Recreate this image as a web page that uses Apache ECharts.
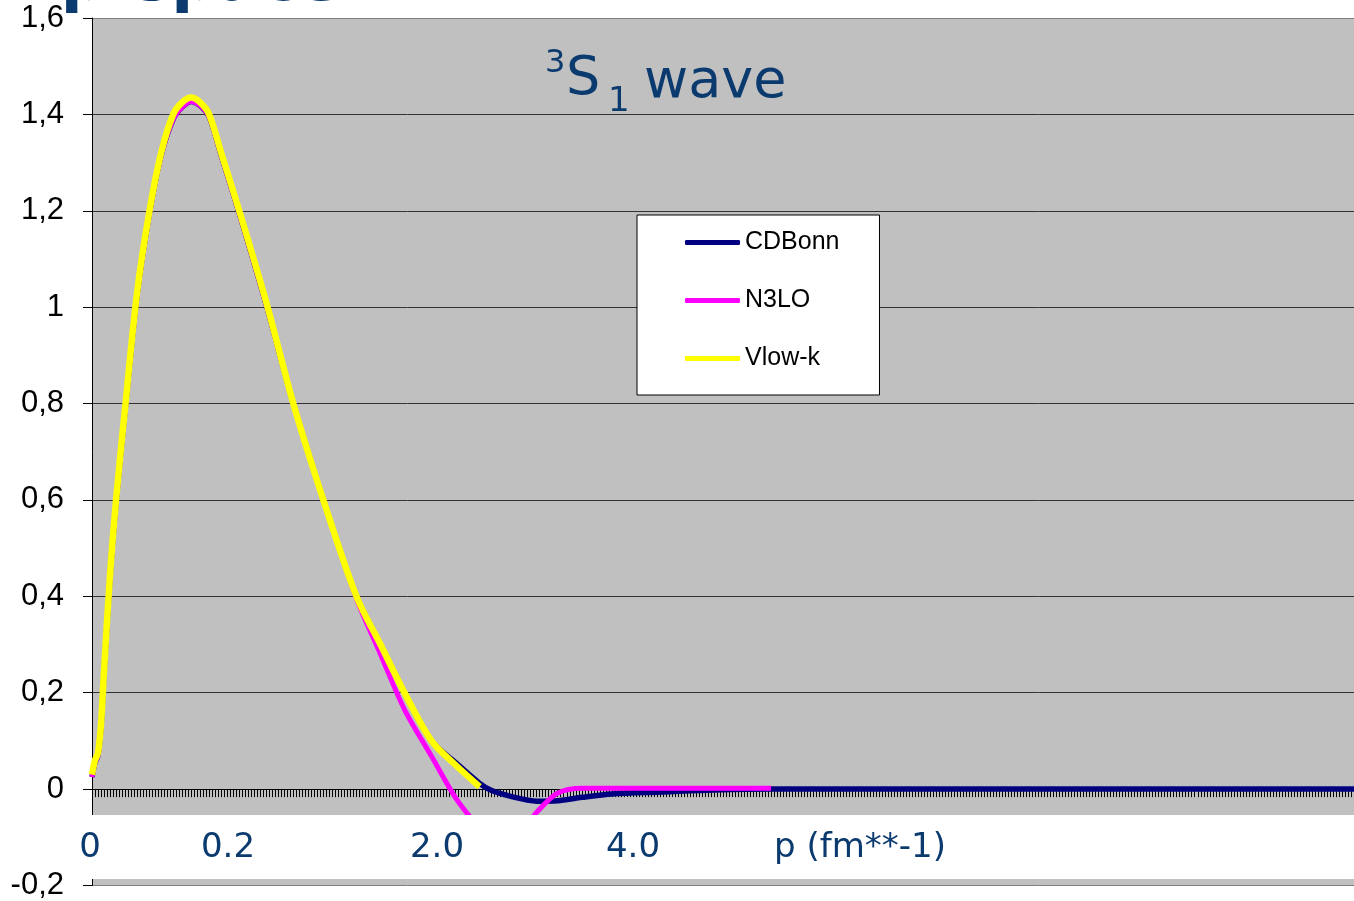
<!DOCTYPE html>
<html>

<head>
    <meta charset="utf-8">
    <title>3S1 wave</title>
    <script src="https://cdn.jsdelivr.net/npm/echarts@6/dist/echarts.min.js"></script>
    <style>
        html, body { margin: 0; padding: 0; background: #ffffff; }
        #main { width: 1354px; height: 901px; }
    </style>
</head>

<body>
    <div id="main"></div>
    <script>
        // sample index along the p axis (the Excel category axis)
        var pIndex = [0, 1, 2, 3, 4, 6, 8, 11, 15, 19, 23, 27, 30, 33, 36, 39, 43, 49, 58, 67, 77, 88, 96, 104,
            113, 121, 129, 133, 140, 148, 155, 163, 173, 190, 207, 226, 300, 420];

        var cdBonn = [0.025, 0.055, 0.07, 0.13, 0.24, 0.44, 0.595, 0.785, 1.025, 1.19, 1.315, 1.39, 1.415, 1.427, 1.418, 1.395,
            1.315, 1.195, 1.005, 0.80, 0.60, 0.40, 0.30, 0.20, 0.10, 0.055, 0.012, -0.003, -0.016, -0.025, -0.024,
            -0.017, -0.010, -0.006, -0.002, 0, 0, 0];

        var n3lo = [0.025, 0.055, 0.07, 0.13, 0.24, 0.44, 0.595, 0.785, 1.025, 1.19, 1.315, 1.39, 1.415, 1.427, 1.418, 1.395,
            1.315, 1.195, 1.005, 0.80, 0.60, 0.395, 0.28, 0.165, 0.068, -0.018, -0.08, -0.10, -0.11, -0.048, -0.008,
            0.002, 0.002, 0.002, 0.002, 0.002, null, null];

        var vlowK = [0.03, 0.06, 0.075, 0.135, 0.245, 0.445, 0.60, 0.79, 1.03, 1.195, 1.32, 1.40, 1.425, 1.435, 1.425, 1.40,
            1.32, 1.20, 1.01, 0.80, 0.60, 0.40, 0.30, 0.20, 0.10, 0.05, 0.005, null, null, null, null,
            null, null, null, null, null, null, null];

        var bottomLabels = ['0', '0.2', '2.0', '4.0', 'p (fm**-1)'];

        function pairs(ys) {
            var out = [];
            for (var i = 0; i < pIndex.length; i++) {
                if (ys[i] !== null) out.push([pIndex[i], ys[i]]);
            }
            return out;
        }

        var blue = '#0b3a6e';
        var myChart = echarts.init(document.getElementById('main'));
        myChart.setOption({
            animation: false,
            grid: {
                left: 92, right: 0, top: 18, bottom: 15,
                show: true, backgroundColor: '#c0c0c0', borderWidth: 0
            },
            legend: {
                orient: 'vertical',
                left: 637, top: 215,
                padding: [15, 40, 24, 48],
                itemGap: 33,
                itemWidth: 55, itemHeight: 5,
                icon: 'roundRect',
                backgroundColor: '#ffffff',
                borderColor: '#000000', borderWidth: 1,
                textStyle: { fontFamily: 'Liberation Sans', fontSize: 25, color: '#000000' },
                data: ['CDBonn', 'N3LO', 'Vlow-k']
            },
            xAxis: {
                type: 'value',
                min: 0, max: 420, interval: 1,
                axisLine: { onZero: true, lineStyle: { color: '#000000', width: 1 } },
                axisTick: { show: true, length: 8, lineStyle: { color: '#000000' } },
                axisLabel: { show: false },
                splitLine: { show: false }
            },
            yAxis: {
                type: 'value',
                min: -0.2, max: 1.6, interval: 0.2,
                axisLine: { show: true, lineStyle: { color: '#000000' } },
                axisTick: { show: true, length: 9, lineStyle: { color: '#000000' } },
                axisLabel: {
                    margin: 28,
                    fontFamily: 'Liberation Sans', fontSize: 31, color: '#000000',
                    formatter: function (v) {
                        return (Math.round(v * 10) / 10).toString().replace('.', ',');
                    }
                },
                splitLine: {
                    show: true,
                    lineStyle: {
                        color: ['#808080', '#000000', '#333333', '#333333', '#333333', '#333333',
                            '#333333', '#333333', '#333333', '#808080'],
                        width: 1
                    }
                }
            },
            series: [{
                name: 'CDBonn', type: 'line', data: pairs(cdBonn),
                showSymbol: false, smooth: 0.3, color: '#000080',
                lineStyle: { width: 5.5, color: '#000080' }
            }, {
                name: 'N3LO', type: 'line', data: pairs(n3lo),
                showSymbol: false, smooth: 0.3, color: '#ff00ff',
                lineStyle: { width: 5, color: '#ff00ff' }
            }, {
                name: 'Vlow-k', type: 'line', data: pairs(vlowK),
                showSymbol: false, smooth: 0.3, color: '#ffff00',
                lineStyle: { width: 6.5, color: '#ffff00' }
            }],
            graphic: [
                // white strip over the lower part of the plot
                { type: 'rect', z: 100, shape: { x: 80, y: 815, width: 1274, height: 64 }, style: { fill: '#ffffff' } },
                { type: 'text', z: 101, style: { x: 90, y: 848, text: bottomLabels[0], font: '34px DejaVu Sans', fill: blue, textAlign: 'center', textVerticalAlign: 'middle' } },
                { type: 'text', z: 101, style: { x: 228, y: 848, text: bottomLabels[1], font: '34px DejaVu Sans', fill: blue, textAlign: 'center', textVerticalAlign: 'middle' } },
                { type: 'text', z: 101, style: { x: 437, y: 848, text: bottomLabels[2], font: '34px DejaVu Sans', fill: blue, textAlign: 'center', textVerticalAlign: 'middle' } },
                { type: 'text', z: 101, style: { x: 633, y: 848, text: bottomLabels[3], font: '34px DejaVu Sans', fill: blue, textAlign: 'center', textVerticalAlign: 'middle' } },
                { type: 'text', z: 101, style: { x: 860, y: 848, text: bottomLabels[4], font: '34px DejaVu Sans', fill: blue, textAlign: 'center', textVerticalAlign: 'middle' } },
                // title 3S1 wave
                { type: 'text', z: 101, style: { x: 545, y: 64, text: '3', font: '32px DejaVu Sans', fill: blue, textAlign: 'left', textVerticalAlign: 'middle' } },
                { type: 'text', z: 101, style: { x: 566, y: 80, text: 'S', font: '54px DejaVu Sans', fill: blue, textAlign: 'left', textVerticalAlign: 'middle' } },
                { type: 'text', z: 101, style: { x: 608, y: 102, text: '1', font: '34px DejaVu Sans', fill: blue, textAlign: 'left', textVerticalAlign: 'middle' } },
                { type: 'text', z: 101, style: { x: 644, y: 83, text: 'wave', font: '54px DejaVu Sans', fill: blue, textAlign: 'left', textVerticalAlign: 'middle' } },
                // slide heading cut off at the top
                { type: 'text', z: 101, style: { x: -29, y: -17, text: 'in p-space', font: 'bold 64px DejaVu Sans', fill: blue, textAlign: 'left', textVerticalAlign: 'middle' } }
            ]
        });
    </script>
</body>

</html>
